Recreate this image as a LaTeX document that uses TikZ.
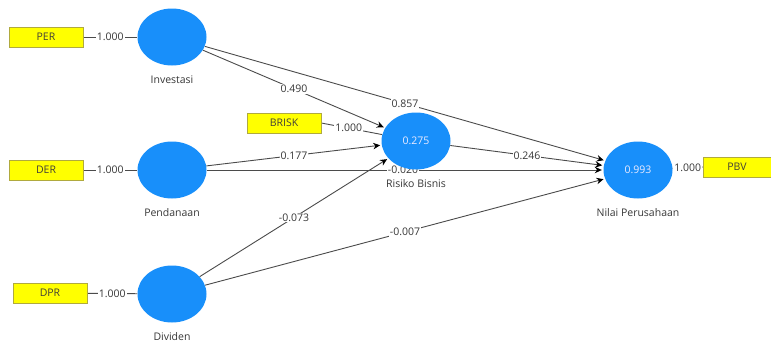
\documentclass[tikz,border=0pt]{standalone}
\usepackage{fontspec}
\setmainfont{Open Sans}
\usetikzlibrary{shapes.geometric,arrows.meta,calc,backgrounds}
\definecolor{lvblue}{RGB}{24,143,250}
\definecolor{indyellow}{RGB}{255,255,0}
\definecolor{edgegray}{RGB}{75,75,75}
\definecolor{txtgray}{RGB}{55,55,55}
\tikzset{
  lv/.style={ellipse, fill=lvblue, draw=none, minimum width=69pt, minimum height=57pt,
             inner sep=0pt, text=white!92!blue, font=\fontsize{10.5}{12}\selectfont},
  ind/.style={rectangle, fill=indyellow, draw=black!35!yellow, line width=0.5pt,
              minimum width=74pt, minimum height=20pt, inner sep=0pt,
              text=black!85!yellow, font=\fontsize{10.5}{12}\selectfont},
  lvname/.style={text=txtgray, font=\fontsize{10.5}{12}\selectfont},
  wt/.style={fill=white, inner sep=1pt, text=txtgray, font=\fontsize{10.5}{12}\selectfont},
  conn/.style={draw=edgegray, line width=0.9pt},
  path/.style={conn, -{Stealth[length=7pt,width=6.5pt,color=black]}, shorten >=1.5pt},
}
\begin{document}
\begin{tikzpicture}[x=1pt,y=-1pt]
\useasboundingbox (0,0) rectangle (771,343);
% indicators
\node[ind] (per) at (46,37) {PER};
\node[ind] (der) at (46,170) {DER};
\node[ind] (dpr) at (50,293) {DPR};
\node[ind] (brisk) at (284,123) {BRISK};
\node[ind, minimum width=68pt] (pbv) at (737,167) {PBV};
% latent variables
\node[lv] (inv) at (172,37) {};
\node[lv] (pen) at (172,170) {};
\node[lv] (div) at (172,294) {};
\node[lv] (rb) at (416,141) {0.275};
\node[lv] (np) at (638,170) {0.993};
% names
\node[lvname] (invn) at (172,80) {Investasi};
\node[lvname] (penn) at (172,213) {Pendanaan};
\node[lvname] (divn) at (172,337) {Dividen};
\node[lvname] (rbn) at (416,184) {Risiko Bisnis};
\node[lvname] (npn) at (638,213) {Nilai Perusahaan};
\begin{scope}[on background layer]
  % measurement lines
  \draw[conn] (per) -- (inv) node[wt, midway] {1.000};
  \draw[conn] (der) -- (pen) node[wt, midway] {1.000};
  \draw[conn] (dpr) -- (div) node[wt, midway] {1.000};
  \draw[conn] (brisk.east) -- (rb) node[wt, pos=0.45] {1.000};
  \draw[conn] (np) -- (pbv.west) node[wt, midway] {1.000};
  % structural paths
  \draw[path] (inv) -- (rb);
  \draw[path] (inv) -- (np);
  \draw[path] (pen) -- (rb);
  \draw[path] (pen.east) -- (np.west);
  \draw[path] (div) -- (rb);
  \draw[path] (div) -- (np);
  \draw[path] (rb) -- (np);
  \node[wt] (l1) at ($(inv)!.5!(rb)$) {0.490};
  \node[wt] (l2) at ($(inv)!.5!(np)$) {0.857};
  \node[wt] (l3) at ($(pen)!.5!(rb)$) {0.177};
  \node[wt] (l4) at ($(pen)!.5!(np)+(-2,0)$) {-0.020};
  \node[wt] (l5) at ($(div)!.5!(rb)$) {-0.073};
  \node[wt] (l6) at ($(div)!.5!(np)$) {-0.007};
  \node[wt] (l7) at ($(rb)!.5!(np)$) {0.246};
\end{scope}
\end{tikzpicture}
\end{document}
